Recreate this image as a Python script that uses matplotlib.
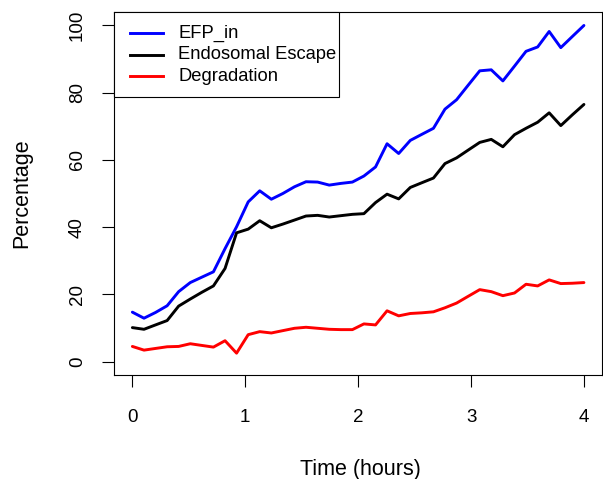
import matplotlib
matplotlib.use("Agg")
import matplotlib.pyplot as plt
from matplotlib.patches import Rectangle
from matplotlib.lines import Line2D

plt.rcParams['font.family'] = ['Liberation Sans', 'DejaVu Sans']

# time points (hours), 40 samples from 0 to 4
time_h = [0.0, 0.103, 0.205, 0.308, 0.410, 0.513, 0.615, 0.718, 0.821, 0.923,
          1.026, 1.128, 1.231, 1.333, 1.436, 1.538, 1.641, 1.744, 1.846, 1.949,
          2.051, 2.154, 2.256, 2.359, 2.462, 2.564, 2.667, 2.769, 2.872, 2.974,
          3.077, 3.179, 3.282, 3.385, 3.487, 3.590, 3.692, 3.795, 3.897, 4.0]

efp_in = [14.7, 12.9, 14.6, 16.6, 20.8, 23.5, 25.1, 26.7, 33.6, 40.1,
          47.5, 50.8, 48.3, 50.0, 52.0, 53.5, 53.4, 52.5, 53.0, 53.4,
          55.2, 57.9, 64.8, 61.9, 65.8, 67.6, 69.4, 75.1, 77.9, 82.2,
          86.5, 86.8, 83.5, 87.9, 92.3, 93.6, 98.2, 93.4, 96.7, 100.0]

endo_escape = [10.1, 9.6, 10.9, 12.2, 16.5, 18.6, 20.6, 22.5, 27.7, 38.3,
               39.4, 41.9, 39.8, 40.9, 42.1, 43.3, 43.5, 43.0, 43.4, 43.8,
               44.0, 47.3, 49.8, 48.4, 51.8, 53.2, 54.6, 58.9, 60.6, 62.9,
               65.2, 66.1, 63.9, 67.5, 69.4, 71.2, 74.0, 70.2, 73.4, 76.5]

degradation = [4.5, 3.4, 3.9, 4.4, 4.5, 5.3, 4.8, 4.3, 6.2, 2.5,
               8.0, 8.9, 8.5, 9.2, 9.9, 10.2, 9.9, 9.6, 9.5, 9.5,
               11.2, 10.9, 15.1, 13.6, 14.3, 14.5, 14.8, 16.0, 17.4, 19.4,
               21.4, 20.8, 19.6, 20.4, 23.0, 22.5, 24.3, 23.2, 23.3, 23.5]

labels = ['EFP_in', 'Endosomal Escape', 'Degradation']
colors = ['blue', 'black', 'red']
series = [efp_in, endo_escape, degradation]

W, H = 603, 479
fig = plt.figure(figsize=(W / 100, H / 100), dpi=100)
# axes box in pixels: left 114.3, right 602, top 12, bottom 375
ax = fig.add_axes([114.3 / W, (H - 375) / H, (602 - 114.3) / W, (375 - 12) / H])

for vals, col in zip(series, colors):
    ax.plot(time_h, vals, color=col, lw=2.1, solid_joinstyle='round', solid_capstyle='round')

ax.set_xlim(-0.16, 4.16)
ax.set_ylim(-4, 104)
ax.set_xticks([0, 1, 2, 3, 4])
ax.set_yticks([0, 20, 40, 60, 80, 100])
ax.set_yticklabels(['0', '20', '40', '60', '80', '100'], rotation=90, va='center')

for s in ax.spines.values():
    s.set_linewidth(0.8)
    s.set_color('black')
ax.tick_params(axis='both', direction='out', length=8.8, width=0.8, labelsize=13.5, colors='black')
ax.tick_params(axis='x', pad=15.5)
ax.tick_params(axis='y', pad=11.5)

fig.text(22 / W, 1 - 193 / H, 'Percentage', rotation=90, ha='center', va='center', fontsize=15.5)
fig.text(360 / W, 1 - 469 / H, 'Time (hours)', ha='center', va='center', fontsize=15.5)

# legend box drawn like R's legend("topleft")
fig.patches.append(Rectangle((114.3 / W, 1 - 96.7 / H), (339.3 - 114.3) / W, (96.7 - 12) / H,
                             transform=fig.transFigure, fill=True, facecolor='white',
                             edgecolor='black', lw=0.8, zorder=5))
row_y = [33.3, 54.5, 76.0]
for lab, col, ry in zip(labels, colors, row_y):
    fig.lines.append(Line2D([130 / W, 163 / W], [1 - ry / H, 1 - ry / H], transform=fig.transFigure,
                            color=col, lw=2.1, zorder=6))
    fig.text(178 / W, 1 - ry / H, lab, ha='left', va='center', fontsize=13.2, zorder=6)

fig.savefig('out.png', dpi=100)
